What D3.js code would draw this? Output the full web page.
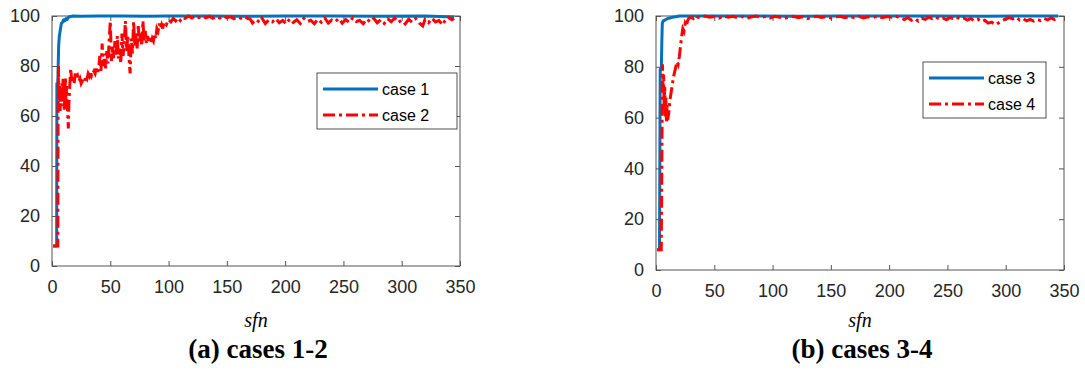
<!DOCTYPE html>
<html>
<head>
<meta charset="utf-8">
<script src="https://cdn.jsdelivr.net/npm/d3@7"></script>
<style>
  html, body { margin: 0; padding: 0; background: #fff; }
  svg { display: block; }
</style>
</head>
<body>
<svg id="chart" width="1085" height="373"></svg>
<script>
// ---------- data ----------
const xTicks = [0, 50, 100, 150, 200, 250, 300, 350];
const yTicks = [0, 20, 40, 60, 80, 100];
const xLabel = "sfn";
const panelTitles = ["(a) cases 1-2", "(b) cases 3-4"];
const legendNames = [["case 1", "case 2"], ["case 3", "case 4"]];

const case1 = [[1,8],[2,8],[3,8],[4,8],[4.2,73],[5,73],[5.3,80],[5.7,88],[6.3,92],[7,94],[8,97],[9,97.5],[10,98.5],[11,98],[12,99],[13,98.6],[14,99.5],[16,99.8],[18,100],[25,99.9],[40,100],[60,100],[80,99.9],[100,100],[130,100],[160,99.9],[200,100],[240,100],[280,99.9],[320,100],[345,99.6]];

const case2 = [[1,8],[2,8],[3,8],[4,8],[5,8],[5.2,60],[5.5,80],[6,66],[6.5,72],[7,62],[7.5,70],[8,64],[8.5,73],[9,66],[9.5,75],[10,70],[10.5,62],[11,68],[11.5,75],[12,64],[12.5,72],[13,66],[13.5,60],[14,55],[14.5,65],[15,70],[16,79],[17,74],[18,76],[19,73],[20,77],[21,75],[22,76],[23,74],[24,75],[25,73],[26,74],[27,75],[28,74],[29,76],[30,75],[31,77],[32,76],[33,78],[34,76],[35,77],[36,78],[37,77],[38,79],[39,77],[40,79],[41,84],[42,78],[43,89],[44,80],[45,85],[46,79],[47,86],[48,81],[49,90],[50,98],[51,82],[52,88],[53,83],[54,90],[55,84],[56,92],[57,83],[58,87],[59,81],[60,93],[61,84],[62,90],[63,98],[64,86],[65,92],[66,84],[67,77],[68,91],[69,85],[70,98],[71,88],[72,93],[73,87],[74,96],[75,89],[76,93],[77,88],[78,98],[79,90],[80,94],[81,89],[82,92],[83,90],[84,92],[85,89],[86,91],[87,90],[88,93],[89,91],[90,95],[91,94],[92,97],[93,95],[94,96.5],[95,95],[96,97.5],[98,96.5],[100,98.5],[102,97.6],[104,99],[106,98],[108,99.3],[110,98.2],[112,99.5],[114,99],[117,100],[120,99.2],[123,100],[126,99.4],[129,100],[132,99.3],[135,99.9],[138,99.1],[141,99.8],[144,99.2],[147,100],[150,99.3],[153,99.7],[156,98.9],[159,99.6],[162,99.1],[165,99.8],[168,99.0],[170,98.8],[172,97.2],[175,98.6],[178,97.5],[180,99.2],[183,97.0],[186,98.4],[189,97.6],[192,99.0],[195,97.3],[198,98.2],[201,96.8],[204,98.9],[207,97.4],[210,98.5],[213,97.0],[216,99.1],[219,97.8],[222,98.3],[225,96.9],[228,98.7],[231,97.5],[234,99.2],[237,97.2],[240,98.4],[243,97.7],[246,99.0],[249,97.1],[252,98.6],[255,97.4],[258,99.3],[261,97.8],[264,98.2],[267,96.9],[270,98.8],[273,97.6],[276,99.1],[279,97.3],[282,98.5],[285,97.0],[288,98.9],[291,97.7],[294,99.2],[297,97.4],[300,98.3],[303,96.8],[306,98.7],[309,97.5],[312,99.0],[315,97.2],[318,96.0],[320,98.6],[323,97.3],[326,99.1],[329,97.6],[332,98.2],[335,96.4],[337,98.0],[340,99.4],[343,98.5],[345,99.0]];

const case3 = [[1,8],[2,8],[3,8],[3.6,79],[4.6,79],[5,90],[5.4,97],[6,98],[8,98.5],[10,99],[12,99.2],[14,99.5],[17,99.7],[20,100],[40,100],[80,100],[120,99.9],[160,100],[200,100],[240,100],[280,99.9],[320,100],[345,100]];

const case4 = [[1,8],[2,8],[3,8],[4,8],[4.5,8],[5,40],[5.5,81],[6,70],[6.5,77],[7,65],[7.5,72],[8,60],[8.5,68],[9,58],[9.5,65],[10,59],[11,62],[12,67],[13,70],[14,73],[15,76],[16,78],[17,80],[18,82],[19,81],[20,84],[21,88],[22,92],[23,95],[24,94],[25,97],[26,96],[27,98],[28,99],[30,99.5],[32,99],[34,100],[36,99.5],[38,99.4],[42,100],[46,99.5],[50,99.8],[54,99.2],[58,100],[62,99.5],[66,99.9],[70,99.3],[74,99.8],[78,99.1],[82,99.7],[86,100],[90,99.4],[94,99.8],[98,99.2],[102,99.9],[106,99.5],[110,99.0],[114,99.6],[118,99.9],[122,99.3],[126,99.7],[130,99.0],[134,99.6],[138,99.9],[142,99.4],[146,99.8],[150,99.2],[154,99.7],[158,99.9],[162,99.3],[166,99.8],[170,99.4],[174,99.9],[178,99.2],[182,99.7],[186,99.4],[190,99.9],[194,99.3],[198,99.8],[202,99.5],[206,99.9],[210,99.2],[213,98.6],[216,99.4],[219,98.3],[222,99.0],[225,98.0],[228,99.1],[231,98.7],[234,99.5],[237,99.0],[240,99.6],[243,98.8],[246,99.3],[249,98.5],[252,99.4],[255,99.0],[258,99.6],[261,98.7],[264,99.2],[267,98.4],[270,99.0],[273,98.2],[276,98.8],[279,97.8],[282,98.3],[285,97.2],[288,97.6],[291,96.6],[294,97.3],[297,98.2],[300,98.8],[303,99.4],[306,98.9],[309,99.5],[312,98.4],[315,98.9],[318,98.1],[321,98.7],[324,98.0],[327,98.6],[330,98.2],[333,99.0],[336,98.5],[339,99.2],[342,98.6],[345,99.3]];

// ---------- drawing ----------
const svg = d3.select("#chart");
const axisColor = "#262626";
const blue = "#0072BD";
const red = "#FF0000";
const dash = "12,4,3,4";

const panels = [
  { left: 52, right: 460, top: 16, bottom: 266, series: [case1, case2], names: legendNames[0], title: panelTitles[0],
    legend: { x: 317, y: 73, w: 140, h: 56 } },
  { left: 656, right: 1064, top: 16, bottom: 270, series: [case3, case4], names: legendNames[1], title: panelTitles[1],
    legend: { x: 923, y: 62, w: 123, h: 56 } }
];

panels.forEach(p => {
  const x = d3.scaleLinear().domain([0, 350]).range([p.left, p.right]);
  const y = d3.scaleLinear().domain([0, 100]).range([p.bottom, p.top]);
  const g = svg.append("g");

  g.append("rect").attr("x", p.left).attr("y", p.top)
    .attr("width", p.right - p.left).attr("height", p.bottom - p.top)
    .attr("fill", "none").attr("stroke", "#555").attr("stroke-width", 1);

  const fmt = d3.format("d");
  const styleAxis = sel => {
    sel.select(".domain").remove();
    sel.selectAll(".tick line").attr("stroke", "#555");
    sel.selectAll(".tick text").attr("fill", axisColor)
      .style("font-family", "'Liberation Sans', Arial, sans-serif").style("font-size", "18px");
  };
  g.append("g").attr("transform", `translate(0,${p.bottom})`)
    .call(d3.axisBottom(x).tickValues(xTicks).tickFormat(fmt).tickSizeInner(-5).tickSizeOuter(0).tickPadding(14))
    .call(styleAxis);
  g.append("g").attr("transform", `translate(0,${p.top})`)
    .call(d3.axisTop(x).tickValues(xTicks).tickFormat("").tickSizeInner(-5).tickSizeOuter(0))
    .call(styleAxis);
  g.append("g").attr("transform", `translate(${p.left},0)`)
    .call(d3.axisLeft(y).tickValues(yTicks).tickFormat(fmt).tickSizeInner(-5).tickSizeOuter(0).tickPadding(12))
    .call(styleAxis);
  g.append("g").attr("transform", `translate(${p.right},0)`)
    .call(d3.axisRight(y).tickValues(yTicks).tickFormat("").tickSizeInner(-5).tickSizeOuter(0))
    .call(styleAxis);

  const line = d3.line().x(d => x(d[0])).y(d => y(d[1]));
  g.append("path").datum(p.series[0]).attr("d", line)
    .attr("fill", "none").attr("stroke", blue).attr("stroke-width", 3).attr("stroke-linejoin", "round");
  g.append("path").datum(p.series[1]).attr("d", line)
    .attr("fill", "none").attr("stroke", red).attr("stroke-width", 3).attr("stroke-dasharray", dash);

  const L = p.legend;
  g.append("rect").attr("x", L.x).attr("y", L.y).attr("width", L.w).attr("height", L.h)
    .attr("fill", "#fff").attr("stroke", axisColor).attr("stroke-width", 0.8);
  p.names.forEach((nm, i) => {
    const ly = L.y + 16 + i * 26;
    g.append("line").attr("x1", L.x + 6).attr("x2", L.x + 61).attr("y1", ly).attr("y2", ly)
      .attr("stroke", i === 0 ? blue : red).attr("stroke-width", 3)
      .attr("stroke-dasharray", i === 0 ? null : dash);
    g.append("text").attr("x", L.x + 65).attr("y", ly + 6).text(nm)
      .attr("fill", "#000").style("font-family", "'Liberation Sans', Arial, sans-serif").style("font-size", "16px");
  });

  const cx = (p.left + p.right) / 2;
  g.append("text").attr("x", cx).attr("y", 327).attr("text-anchor", "middle").text(xLabel)
    .style("font-family", "'Liberation Serif', 'Times New Roman', serif").style("font-style", "italic").style("font-size", "20px");
  g.append("text").attr("x", cx + 2).attr("y", 358).attr("text-anchor", "middle").text(p.title)
    .style("font-family", "'Liberation Serif', 'Times New Roman', serif").style("font-weight", "bold").style("font-size", "27px");
});
</script>
</body>
</html>
